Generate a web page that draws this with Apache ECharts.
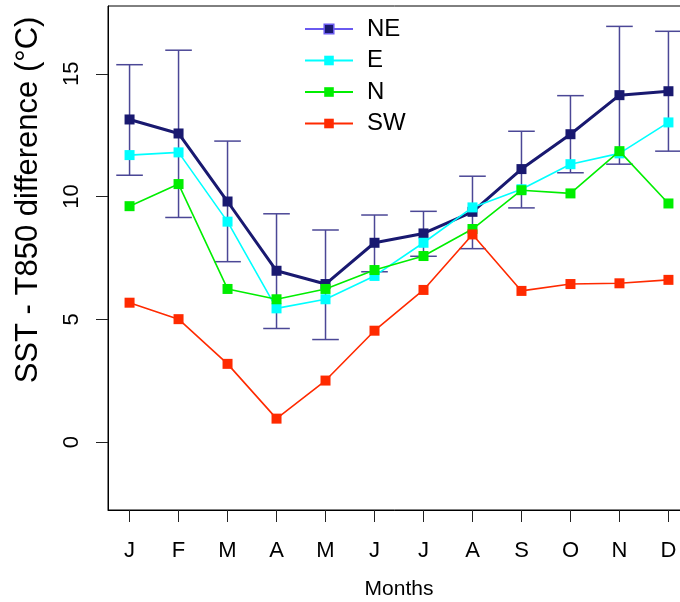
<!DOCTYPE html>
<html>
<head>
<meta charset="utf-8">
<script src="https://cdn.jsdelivr.net/npm/echarts@6/dist/echarts.min.js"></script>
<style>html,body{margin:0;padding:0;background:#fff}#c{width:680px;height:602px}</style>
</head>
<body>
<div id="c"></div>
<script>
const months = ['J','F','M','A','M','J','J','A','S','O','N','D'];
const yTicks = [0, 5, 10, 15];
const neValues = [13.14, 12.57, 9.80, 6.98, 6.44, 8.12, 8.50, 9.38, 11.12, 12.54, 14.13, 14.29];
const neUpper  = [15.37, 15.96, 12.26, 9.30, 8.64, 9.25, 9.40, 10.83, 12.66, 14.11, 16.93, 16.73];
const neLower  = [10.87, 9.15, 7.35, 4.63, 4.18, 6.94, 7.57, 7.88, 9.54, 10.97, 11.32, 11.85];
const eValues  = [11.69, 11.80, 8.98, 5.45, 5.82, 6.77, 8.12, 9.56, 10.30, 11.32, 11.76, 13.02];
const nValues  = [9.61, 10.51, 6.24, 5.82, 6.24, 7.01, 7.58, 8.68, 10.26, 10.13, 11.85, 9.72];
const swValues = [5.68, 5.01, 3.19, 0.96, 2.51, 4.54, 6.20, 8.46, 6.16, 6.44, 6.47, 6.61];

const idx = months.map((m, i) => i);
const pts = arr => arr.map((v, i) => [i, v]);
const FONT = 'Liberation Sans';

const chart = echarts.init(document.getElementById('c'), null, {renderer: 'canvas'});
const errData = idx.map(i => [i, neLower[i], neUpper[i]]);

function lineSeries(name, vals, color, width, z) {
  return {
    name, type: 'line', data: pts(vals), z,
    symbol: 'rect', symbolSize: 10,
    lineStyle: {color, width},
    itemStyle: {color},
    emphasis: {disabled: true},
    animation: false
  };
}

chart.setOption({
  animation: false,
  backgroundColor: '#fff',
  grid: {left: 108, top: 6, width: 582, height: 504, show: true, borderColor: '#000', borderWidth: 1,
         containLabel: false, outerBoundsMode: 'none'},
  legend: {
    left: 304, top: 17, orient: 'vertical', padding: 0,
    itemWidth: 48, itemHeight: 12, itemGap: 7.5,
    textStyle: {fontFamily: FONT, fontSize: 24, color: '#000', lineHeight: 24, padding: [0, 0, 0, 9]},
    data: [
      {name: 'NE', itemStyle: {color: '#191970', borderColor: '#6a5af0', borderWidth: 1.5}, lineStyle: {color: '#6a5af0', width: 2}},
      {name: 'E', lineStyle: {width: 2}},
      {name: 'N', lineStyle: {width: 2}},
      {name: 'SW', lineStyle: {width: 2}}
    ]
  },
  xAxis: {
    type: 'value', min: -0.44, max: 11.44,
    axisLine: {show: true, onZero: false, lineStyle: {color: '#000', width: 1}},
    axisTick: {show: true, length: 12, lineStyle: {color: '#222', width: 1}, customValues: idx},
    axisLabel: {customValues: idx, formatter: v => months[Math.round(v)], fontFamily: FONT, fontSize: 22, color: '#000', margin: 30},
    splitLine: {show: false},
    name: 'Months', nameLocation: 'middle', nameGap: 69,
    nameTextStyle: {fontFamily: FONT, fontSize: 21, color: '#000'}
  },
  yAxis: {
    type: 'value', min: -2.76, max: 17.76,
    axisLine: {show: true, onZero: false, lineStyle: {color: '#000', width: 1}},
    axisTick: {show: true, length: 12, lineStyle: {color: '#222', width: 1}, customValues: yTicks},
    axisLabel: {customValues: yTicks, fontFamily: FONT, fontSize: 22, color: '#000', rotate: 90, margin: 25},
    splitLine: {show: false}
  },
  graphic: [{
    type: 'text', x: 28, y: 200, rotation: Math.PI / 2,
    style: {text: 'SST - T850 difference (°C)', fontFamily: FONT, fontSize: 31, fill: '#000', align: 'center', verticalAlign: 'middle'}
  }],
  series: [
    {
      name: 'errbars', type: 'custom', z: 1, data: errData,
      renderItem: (params, api) => {
        const x = api.value(0);
        const lo = api.coord([x, api.value(1)]);
        const hi = api.coord([x, api.value(2)]);
        const hw = 13.3;
        const st = {stroke: '#4b4796', lineWidth: 1.5};
        return {type: 'group', children: [
          {type: 'line', shape: {x1: lo[0], y1: lo[1], x2: hi[0], y2: hi[1]}, style: st},
          {type: 'line', shape: {x1: hi[0] - hw, y1: hi[1], x2: hi[0] + hw, y2: hi[1]}, style: st},
          {type: 'line', shape: {x1: lo[0] - hw, y1: lo[1], x2: lo[0] + hw, y2: lo[1]}, style: st}
        ]};
      },
      silent: true, animation: false
    },
    lineSeries('NE', neValues, '#191970', 3, 2),
    lineSeries('E', eValues, '#00ffff', 1.6, 3),
    lineSeries('N', nValues, '#00ee00', 1.6, 4),
    lineSeries('SW', swValues, '#ff2a00', 1.6, 5)
  ]
});
</script>
</body>
</html>
